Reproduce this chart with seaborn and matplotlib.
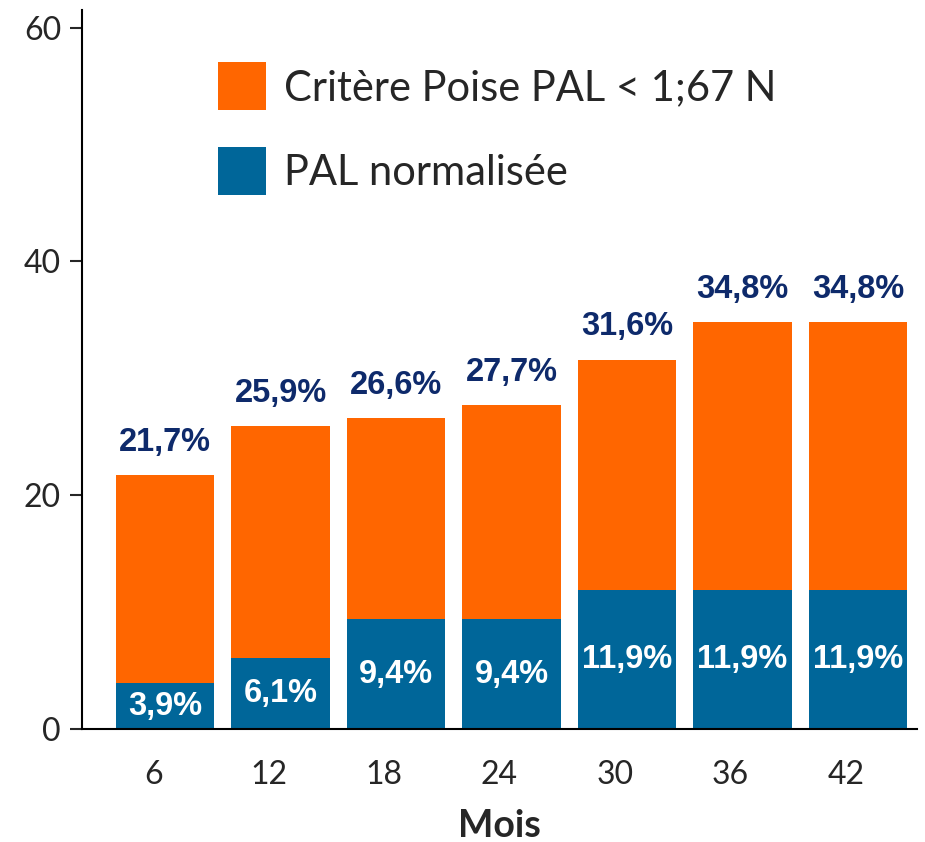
import numpy as np
import pandas as pd
import seaborn as sns
import matplotlib.pyplot as plt
import matplotlib.transforms as mtransforms

# données
mois = ["6", "12", "18", "24", "30", "36", "42"]
critere_poise = [21.7, 25.9, 26.6, 27.7, 31.6, 34.8, 34.8]
pal_normalisee = [3.9, 6.1, 9.4, 9.4, 11.9, 11.9, 11.9]

ORANGE = "#FF6600"
BLEU = "#006699"
MARINE = "#0E2A6B"

sns.set_style("ticks")
plt.rcParams["font.family"] = ["Lato", "DejaVu Sans"]

df = pd.DataFrame({
    "mois": mois,
    "critere": critere_poise,
    "pal": pal_normalisee
})

fig = plt.figure(figsize=(9.25, 8.42), dpi=100)
ax = fig.add_axes([0.0886, 0.1342, 0.9025, 0.8538])

sns.barplot(data=df, x="mois", y="critere", color=ORANGE, width=0.855,
            saturation=1, linewidth=0, edgecolor="none", ax=ax,
            label="Critère Poise PAL < 1;67 N")
sns.barplot(data=df, x="mois", y="pal", color=BLEU, width=0.855,
            saturation=1, linewidth=0, edgecolor="none", ax=ax,
            label="PAL normalisée")

# étiquettes de valeurs
for i, (tot, bl) in enumerate(zip(critere_poise, pal_normalisee)):
    ax.annotate(f"{tot:.1f}%".replace(".", ","), (i, tot),
                xytext=(0, 12.5), textcoords="offset points",
                ha="center", va="bottom", fontsize=23.5, fontweight="bold",
                color=MARINE, family="Liberation Sans")
    ax.text(i, bl / 2, f"{bl:.1f}%".replace(".", ","),
            ha="center", va="center", fontsize=23.5, fontweight="bold",
            color="white", family="Liberation Sans")

ax.set_xlim(-0.72, 6.51)
ax.set_ylim(0, 61.5)
ax.set_yticks([0, 20, 40, 60])

ax.set_xlabel("Mois", fontsize=27, fontweight="bold", labelpad=14)
ax.set_ylabel("")

ax.tick_params(axis="x", length=0, labelsize=23, pad=22)
ax.tick_params(axis="y", length=9, width=1.5, labelsize=23, pad=6)

# décalage des étiquettes x vers la gauche
offset = mtransforms.ScaledTranslation(-12 / 100, 0, fig.dpi_scale_trans)
for lbl in ax.get_xticklabels():
    lbl.set_transform(lbl.get_transform() + offset)

sns.despine(ax=ax)
for sp in ["left", "bottom"]:
    ax.spines[sp].set_linewidth(1.5)
    ax.spines[sp].set_color("black")

leg = ax.legend(loc="upper left", bbox_to_anchor=(0.118, 0.98),
                frameon=False, fontsize=30, handlelength=1.15,
                handleheight=1.39, handletextpad=0.43, labelspacing=0.89)

fig.savefig("out.png", dpi=100)
